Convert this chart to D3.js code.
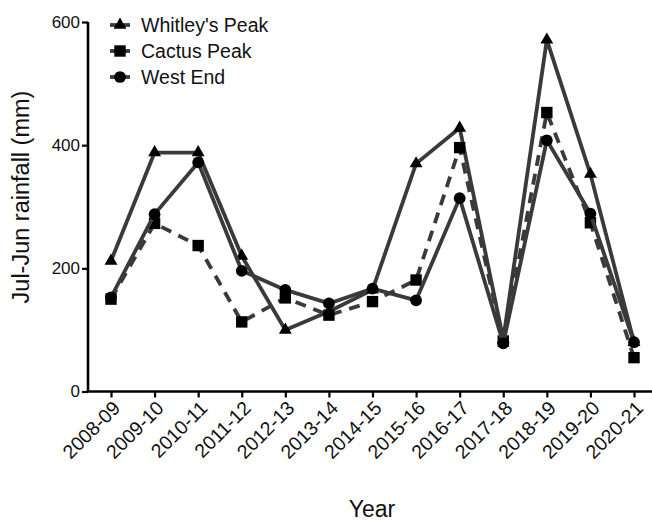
<!DOCTYPE html>
<html>
<head>
<meta charset="utf-8">
<script src="https://cdn.jsdelivr.net/npm/d3@7"></script>
<style>
  html, body { margin: 0; padding: 0; background: #fff; }
  svg { display: block; font-family: "Liberation Sans", Arial, sans-serif; }
</style>
</head>
<body>
<svg id="chart" width="652" height="521"></svg>
<script>
// Annual (Jul-Jun) rainfall at three sites
const years = ["2008-09", "2009-10", "2010-11", "2011-12", "2012-13", "2013-14", "2014-15",
               "2015-16", "2016-17", "2017-18", "2018-19", "2019-20", "2020-21"];
const whitleysPeak = [212, 388, 388, 220, 100, 130, 165, 370, 428, 85, 571, 353, 80];
const cactusPeak   = [150, 273, 237, 113, 152, 124, 146, 181, 396, 82, 453, 274, 55];
const westEnd      = [153, 288, 372, 196, 165, 143, 167, 148, 314, 78, 408, 289, 80];
const yTicks = [0, 200, 400, 600];

const series = [
  { name: "Whitley's Peak", values: whitleysPeak, symbol: d3.symbolTriangle, size: 72,  dash: null },
  { name: "Cactus Peak",    values: cactusPeak,   symbol: d3.symbolSquare,   size: 130, dash: "11,8" },
  { name: "West End",       values: westEnd,      symbol: d3.symbolCircle,   size: 108, dash: null }
];

const svg = d3.select("#chart");
const lineColor = "#3a3a3a";

const x = d3.scalePoint().domain(years).range([111, 634]);
const y = d3.scaleLinear().domain([0, 600]).range([391.5, 22]);

// Y axis
const yAxis = svg.append("g")
  .attr("transform", "translate(88,0)")
  .call(d3.axisLeft(y).tickValues(yTicks).tickSize(6).tickPadding(2));
yAxis.select(".domain").attr("stroke", "#000").attr("stroke-width", 2.6).attr("d", `M0,${y(600)}V${y(0)}`);
yAxis.selectAll(".tick line").attr("stroke", "#000").attr("stroke-width", 2.2);
yAxis.selectAll(".tick text").attr("font-size", 17).attr("fill", "#111")
  .attr("font-family", "Liberation Sans, Arial, sans-serif");

// X axis
const xAxis = svg.append("g")
  .attr("transform", `translate(0,${y(0)})`)
  .call(d3.axisBottom(x).tickSize(6).tickPadding(4));
xAxis.select(".domain").attr("stroke", "#000").attr("stroke-width", 2.6).attr("d", "M87,0H656");
xAxis.selectAll(".tick line").attr("stroke", "#000").attr("stroke-width", 2.2);
xAxis.selectAll(".tick text")
  .attr("font-size", 19.5).attr("fill", "#111")
  .attr("font-family", "Liberation Sans, Arial, sans-serif")
  .attr("text-anchor", "end")
  .attr("dy", "0.35em")
  .attr("transform", "translate(-2,6) rotate(-45)");

// Axis titles
svg.append("text")
  .attr("x", 372).attr("y", 517)
  .attr("text-anchor", "middle")
  .attr("font-size", 23).attr("fill", "#111")
  .text("Year");

svg.append("text")
  .attr("transform", "translate(29,197) rotate(-90)")
  .attr("text-anchor", "middle")
  .attr("font-size", 23.5).attr("fill", "#111")
  .text("Jul-Jun rainfall (mm)");

// Series: line then markers
const line = d3.line().x((d, i) => x(years[i])).y(d => y(d));

series.forEach(s => {
  svg.append("path")
    .attr("d", line(s.values))
    .attr("fill", "none")
    .attr("stroke", lineColor)
    .attr("stroke-width", 3.8)
    .attr("stroke-linejoin", "round")
    .attr("stroke-dasharray", s.dash);

  svg.append("g").selectAll("path")
    .data(s.values)
    .join("path")
    .attr("transform", (d, i) => `translate(${x(years[i])},${y(d)})`)
    .attr("d", d3.symbol().type(s.symbol).size(s.size))
    .attr("fill", "#000");
});

// Legend
const legend = svg.append("g").attr("transform", "translate(110,25)");
series.forEach((s, i) => {
  const g = legend.append("g").attr("transform", `translate(0,${i * 26})`);
  g.append("line")
    .attr("x1", 0).attr("x2", 20).attr("y1", 0).attr("y2", 0)
    .attr("stroke", lineColor).attr("stroke-width", 3.8);
  g.append("path")
    .attr("transform", "translate(10,0)")
    .attr("d", d3.symbol().type(s.symbol).size(s.size))
    .attr("fill", "#000");
  g.append("text")
    .attr("x", 31).attr("y", 0).attr("dy", "0.35em")
    .attr("font-size", 19.5).attr("fill", "#111")
    .text(s.name);
});
</script>
</body>
</html>
